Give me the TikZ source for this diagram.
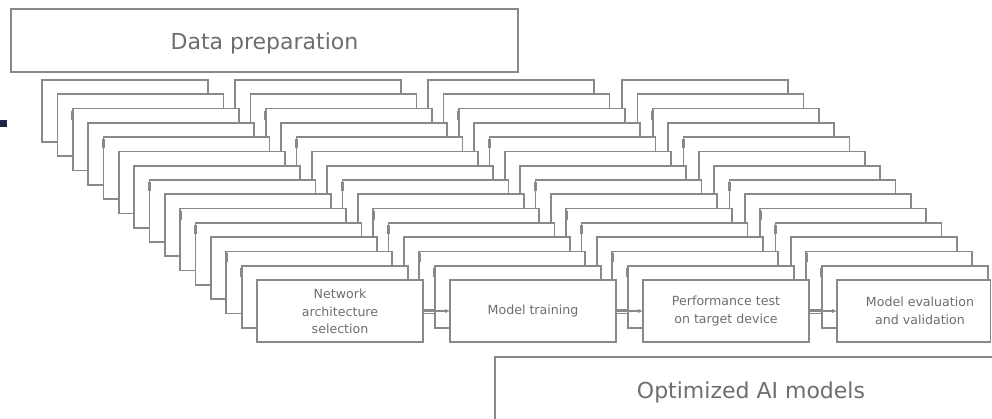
\documentclass[tikz,border=0pt]{standalone}
\usepackage{fontspec}
\setmainfont{DejaVu Sans}
\usetikzlibrary{arrows.meta,calc}
\definecolor{edge}{HTML}{898989}
\definecolor{ink}{HTML}{6E6E6E}
\definecolor{navy}{HTML}{1C2448}

\begin{document}
\begin{tikzpicture}[x=1pt,y=-1pt,
  card/.style={draw=edge, line width=1.7pt, fill=white, anchor=north west,
    minimum width=166pt, minimum height=62pt, inner sep=0pt, outer sep=0pt},
  banner/.style={draw=edge, line width=1.7pt, fill=white, anchor=north west,
    inner sep=0pt, outer sep=0pt},
  title/.style={text=ink, inner sep=0pt, font=\fontsize{22}{26}\selectfont},
  label/.style={text=ink, align=center, font=\fontsize{12.6}{17.5}\selectfont},
  notch/.style={draw=edge, line width=2.6pt},
  flow/.style={draw=edge, line width=1.1pt, -{Latex[length=5pt,width=4.5pt]}},
  stub/.style={draw=edge, line width=1.1pt}]
\useasboundingbox (0,0) rectangle (992,419);
\clip (0,0) rectangle (992,419);

% bullet mark at the left border
\fill[navy] (0,120) rectangle (6.5,127);

% top banner
\node[banner, minimum width=507pt, minimum height=63pt] (prep) at (11,9) {};
\node[title] (prep-t) at ($(prep.center)+(0,3)$) {Data preparation};

% stacked cards, painted from the back row to the front row
\foreach \i in {0,...,13} {
  \foreach \c/\x in {0/42,1/235,2/428,3/622} {
    \node[card] (b-\c-\i) at ({\x+15.36*\i},{80+14.29*\i}) {};
    \ifnum\i>1
      \draw[notch] ($(b-\c-\i.north west)+(0,2)$) -- ($(b-\c-\i.north west)+(0,11)$);
    \fi
  }
}

% front row
\node[card] (b-0-14) at (257,280) {};
\node[card] (b-1-14) at (450,280) {};
\node[card] (b-2-14) at (643,280) {};
\node[card, minimum width=153.5pt] (b-3-14) at (837,280) {};
\foreach \c in {0,1,2,3} {
  \draw[notch] ($(b-\c-14.north west)+(0,2)$) -- ($(b-\c-14.north west)+(0,11)$);
}

\node[label] (t0) at ($(b-0-14.center)+(0,0.5)$) {Network\\architecture\\selection};
\node[label] (t1) at (b-1-14.center) {Model training};
\node[label] (t2) at (b-2-14.center) {Performance test\\on target device};
\node[label] (t3) at ($(b-3-14.center)+(6.25,0)$) {Model evaluation\\and validation};

% connectors between the front cards
\foreach \a/\b in {0/1,1/2,2/3} {
  \draw[stub] ($(b-\a-14.east)+(0,-1.6)$) -- ($(b-\a-14.east)+(12,-1.6)$);
  \draw[flow] (b-\a-14.east) -- (b-\b-14.west);
}

% bottom banner
\node[banner, minimum width=510pt, minimum height=66pt] (out) at (495,357) {};
\node[title] (out-t) at (751,392) {Optimized AI models};
\end{tikzpicture}
\end{document}
